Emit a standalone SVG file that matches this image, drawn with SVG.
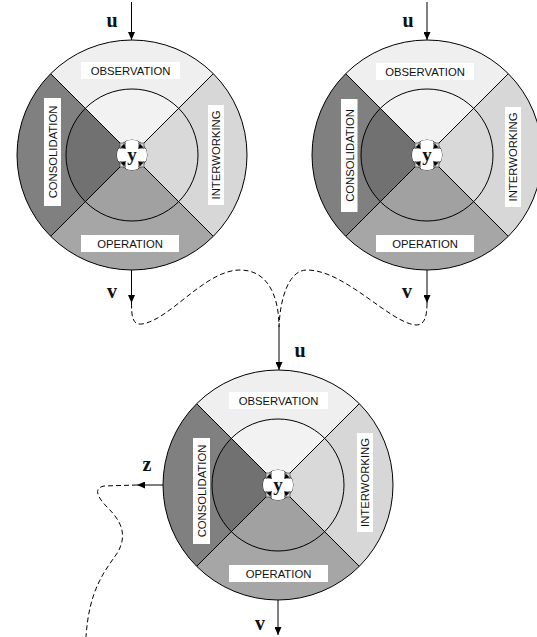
<svg xmlns="http://www.w3.org/2000/svg" xmlns:xlink="http://www.w3.org/1999/xlink" width="537" height="637" viewBox="0 0 537 637">
<style>
.lbl{font-family:"Liberation Sans",Arial,sans-serif;font-size:11.3px;fill:#111;text-anchor:middle}
.var{font-family:"Liberation Serif","Times New Roman",serif;font-size:20px;font-weight:bold;fill:#111;text-anchor:middle}
.box{fill:#ffffff}
.edge{fill:none;stroke:#000;stroke-width:1}
.dash{fill:none;stroke:#000;stroke-width:1;stroke-dasharray:5,3}
.ln{stroke:#000;stroke-width:1;fill:none}
</style>
<defs>
<marker id="ah" markerUnits="userSpaceOnUse" markerWidth="8" markerHeight="7" refX="8" refY="3.5" orient="auto">
<path d="M0,0 L8,3.5 L0,7 z" fill="#000"/>
</marker>
<path id="notch" d="M-6,-6 L-12,-6 L-12,-12 L-6,-12 z"/>
<path id="tri" d="M-6.5,-6.5 L-7.6,-11.6 L-11.6,-7.6 z"/>
<g id="disc">
<path d="M0,0 L-81.32,-81.32 A115,115 0 0,1 81.32,-81.32 z" fill="#efefef"/>
<path d="M0,0 L81.32,-81.32 A115,115 0 0,1 81.32,81.32 z" fill="#d7d7d7"/>
<path d="M0,0 L81.32,81.32 A115,115 0 0,1 -81.32,81.32 z" fill="#a6a6a6"/>
<path d="M0,0 L-81.32,81.32 A115,115 0 0,1 -81.32,-81.32 z" fill="#808080"/>
<path d="M0,0 L-46.67,-46.67 A66,66 0 0,1 46.67,-46.67 z" fill="#f2f2f2"/>
<path d="M0,0 L46.67,-46.67 A66,66 0 0,1 46.67,46.67 z" fill="#d9d9d9"/>
<path d="M0,0 L46.67,46.67 A66,66 0 0,1 -46.67,46.67 z" fill="#a1a1a1"/>
<path d="M0,0 L-46.67,46.67 A66,66 0 0,1 -46.67,-46.67 z" fill="#717171"/>
<circle r="115" class="ln"/>
<circle r="66" class="ln"/>
<line x1="-81.32" y1="-81.32" x2="81.32" y2="81.32" class="ln"/>
<line x1="81.32" y1="-81.32" x2="-81.32" y2="81.32" class="ln"/>
<circle r="15" fill="#fff" stroke="#000" stroke-width="0.7"/>
<g fill="#d0d0d0" stroke="#333" stroke-width="0.6">
<use xlink:href="#notch"/>
<use xlink:href="#notch" transform="rotate(90)"/>
<use xlink:href="#notch" transform="rotate(180)"/>
<use xlink:href="#notch" transform="rotate(270)"/>
</g>
<g fill="#000">
<use xlink:href="#tri"/>
<use xlink:href="#tri" transform="rotate(90)"/>
<use xlink:href="#tri" transform="rotate(180)"/>
<use xlink:href="#tri" transform="rotate(270)"/>
</g>
<path d="M-6,-13.7 A15,15 0 0,1 6,-13.7 L6,-6 L13.7,-6 A15,15 0 0,1 13.7,6 L6,6 L6,13.7 A15,15 0 0,1 -6,13.7 L-6,6 L-13.7,6 A15,15 0 0,1 -13.7,-6 L-6,-6 z" fill="#fff"/>
<text x="0" y="6" font-family="Liberation Serif,serif" font-size="19" font-weight="bold" text-anchor="middle" fill="#111">y</text>
</g>
</defs>
<rect width="537" height="637" fill="#fff"/>

<g id="node-top-left" transform="translate(132,155)">
<use xlink:href="#disc"/>
<rect class="box" x="-51" y="-93" width="99" height="17"/>
<text class="lbl" x="-1.5" y="-80.5">OBSERVATION</text>
<rect class="box" x="-51" y="80" width="98" height="17"/>
<text class="lbl" x="-2" y="92.5">OPERATION</text>
<rect class="box" x="-88" y="-57" width="17" height="108"/>
<text class="lbl" transform="translate(-75.5,-3) rotate(-90)" x="0" y="0">CONSOLIDATION</text>
<rect class="box" x="76" y="-50" width="16" height="100"/>
<text class="lbl" transform="translate(88,0) rotate(-90)" x="0" y="0">INTERWORKING</text>
</g>

<g id="node-top-right" transform="translate(427,155)">
<use xlink:href="#disc"/>
<rect class="box" x="-51" y="-92" width="98" height="17"/>
<text class="lbl" x="-2" y="-79.5">OBSERVATION</text>
<rect class="box" x="-51" y="80" width="98" height="17"/>
<text class="lbl" x="-2" y="92.5">OPERATION</text>
<rect class="box" x="-86" y="-56" width="16.5" height="113"/>
<text class="lbl" transform="translate(-73.5,0.5) rotate(-90)" x="0" y="0">CONSOLIDATION</text>
<rect class="box" x="78" y="-48" width="16" height="100"/>
<text class="lbl" transform="translate(90,2) rotate(-90)" x="0" y="0">INTERWORKING</text>
</g>

<g id="node-bottom" transform="translate(278,485)">
<use xlink:href="#disc"/>
<rect class="box" x="-49" y="-93" width="99" height="17"/>
<text class="lbl" x="0.5" y="-80.5">OBSERVATION</text>
<rect class="box" x="-49" y="80" width="99" height="17"/>
<text class="lbl" x="0.5" y="92.5">OPERATION</text>
<rect class="box" x="-85" y="-47" width="17" height="106"/>
<text class="lbl" transform="translate(-72.5,6) rotate(-90)" x="0" y="0">CONSOLIDATION</text>
<rect class="box" x="79" y="-52" width="16" height="99"/>
<text class="lbl" transform="translate(91,-2.5) rotate(-90)" x="0" y="0">INTERWORKING</text>
</g>

<g id="connectors">
<line class="edge" x1="131.5" y1="2" x2="131.5" y2="40" marker-end="url(#ah)"/>
<line class="edge" x1="427" y1="2" x2="427" y2="40" marker-end="url(#ah)"/>
<line class="edge" x1="131.5" y1="270" x2="131.5" y2="303" marker-end="url(#ah)"/>
<line class="edge" x1="427" y1="270" x2="427" y2="303" marker-end="url(#ah)"/>
<path class="dash" d="M131.5,303 C131.5,318 133,325 142,324 C170,320 205,270 240,270 C270,270 279,300 279,327"/>
<path class="dash" d="M427,303 C427,318 424,325 416,325 C390,323 345,270 307,270 C288,270 280,300 279,327"/>
<line class="edge" x1="279" y1="327" x2="279" y2="370" marker-end="url(#ah)"/>
<line class="edge" x1="278" y1="600" x2="278" y2="635" marker-end="url(#ah)"/>
<line class="edge" x1="163" y1="485" x2="137" y2="485" marker-end="url(#ah)"/>
<path class="dash" d="M137,485 L104,486 C94,488 96,496 108,508 C122,522 127,535 118,552 C104,572 89,590 86,637"/>
<text class="var" x="112" y="27">u</text>
<text class="var" x="408" y="27">u</text>
<text class="var" x="112" y="298">v</text>
<text class="var" x="407" y="298">v</text>
<text class="var" x="300" y="357">u</text>
<text class="var" x="260" y="630">v</text>
<text class="var" x="147" y="471">z</text>
</g>
</svg>
